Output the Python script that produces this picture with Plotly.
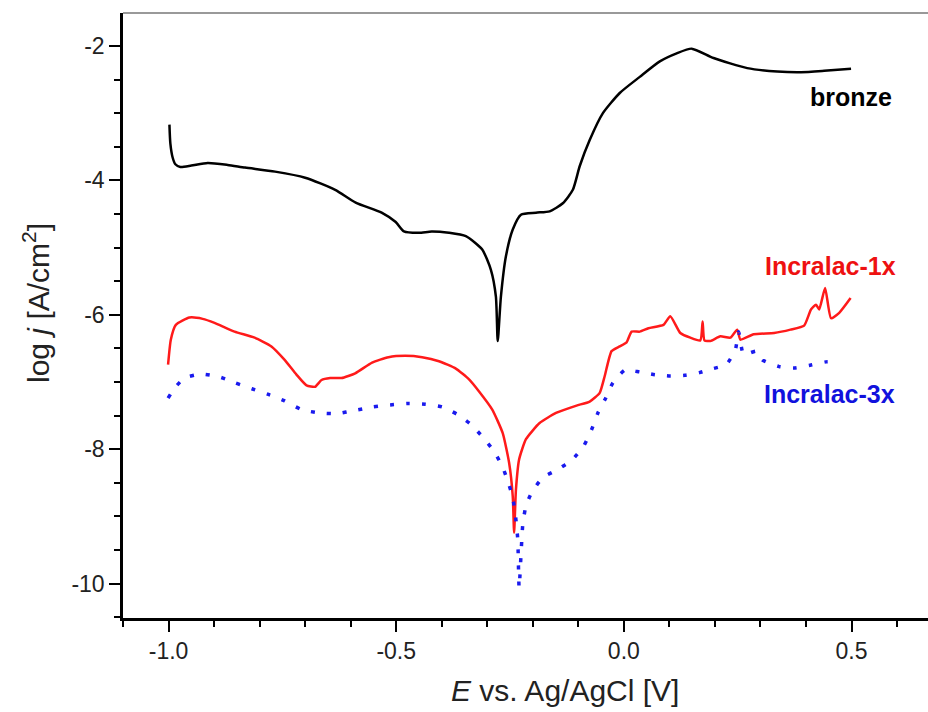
import plotly.graph_objects as go

# ---- data ----
bronze_E = [-0.998, -0.996, -0.991, -0.985, -0.974, -0.950, -0.914, -0.870, -0.832, -0.766,
            -0.700, -0.634, -0.589, -0.532, -0.501, -0.483, -0.450, -0.422, -0.384, -0.347,
            -0.311, -0.292, -0.281, -0.277, -0.270, -0.259, -0.244, -0.226, -0.193, -0.163,
            -0.134, -0.112, -0.097, -0.075, -0.046, -0.009, 0.035, 0.079, 0.116, 0.149,
            0.197, 0.271, 0.337, 0.389, 0.440, 0.499]
bronze_logj = [-3.17, -3.45, -3.66, -3.76, -3.80, -3.78, -3.74, -3.77, -3.81, -3.87,
               -3.96, -4.14, -4.33, -4.48, -4.62, -4.76, -4.78, -4.76, -4.78, -4.83,
               -5.03, -5.33, -5.73, -6.39, -5.73, -5.13, -4.73, -4.51, -4.48, -4.46,
               -4.34, -4.14, -3.79, -3.40, -3.00, -2.70, -2.46, -2.23, -2.11, -2.04,
               -2.18, -2.33, -2.38, -2.39, -2.37, -2.34]

inc1_E = [-1.001, -0.995, -0.984, -0.954, -0.925, -0.899, -0.855, -0.811, -0.774, -0.745,
          -0.719, -0.697, -0.678, -0.664, -0.645, -0.620, -0.590, -0.553, -0.517, -0.480,
          -0.443, -0.406, -0.369, -0.340, -0.318, -0.289, -0.266, -0.252, -0.244, -0.241,
          -0.237, -0.230, -0.215, -0.185, -0.149, -0.104, -0.075, -0.053, -0.042, -0.027,
          -0.009, 0.006, 0.017, 0.035, 0.054, 0.087, 0.102, 0.124, 0.146, 0.168,
          0.173, 0.177, 0.190, 0.212, 0.234, 0.249, 0.256, 0.285, 0.330, 0.366,
          0.396, 0.411, 0.422, 0.429, 0.442, 0.455, 0.473, 0.498]
inc1_logj = [-6.74, -6.37, -6.15, -6.04, -6.06, -6.12, -6.25, -6.34, -6.47, -6.67,
             -6.89, -7.05, -7.07, -6.97, -6.94, -6.94, -6.87, -6.71, -6.63, -6.61,
             -6.63, -6.69, -6.80, -6.96, -7.14, -7.41, -7.76, -8.20, -8.70, -9.24,
             -8.60, -8.15, -7.85, -7.61, -7.46, -7.35, -7.29, -7.16, -6.91, -6.54,
             -6.47, -6.41, -6.25, -6.25, -6.20, -6.15, -6.02, -6.27, -6.34, -6.38,
             -6.10, -6.38, -6.39, -6.32, -6.34, -6.22, -6.37, -6.29, -6.27, -6.22,
             -6.16, -5.92, -5.85, -5.92, -5.60, -6.05, -5.97, -5.75]

inc3_E = [-1.001, -0.987, -0.965, -0.929, -0.890, -0.854, -0.817, -0.778, -0.745, -0.708,
          -0.669, -0.630, -0.590, -0.551, -0.513, -0.475, -0.436, -0.399, -0.366, -0.336,
          -0.311, -0.285, -0.266, -0.255, -0.244, -0.238, -0.233, -0.230, -0.222, -0.215,
          -0.202, -0.178, -0.145, -0.114, -0.088, -0.071, -0.057, -0.040, -0.024, 0.003,
          0.035, 0.068, 0.102, 0.134, 0.166, 0.190, 0.225, 0.245, 0.252, 0.263,
          0.291, 0.304, 0.341, 0.374, 0.409, 0.444, 0.471]
inc3_logj = [-7.24, -7.09, -6.94, -6.88, -6.92, -7.01, -7.10, -7.19, -7.28, -7.41,
             -7.46, -7.47, -7.42, -7.37, -7.34, -7.32, -7.33, -7.37, -7.48, -7.63,
             -7.81, -8.03, -8.27, -8.47, -8.72, -8.99, -9.34, -10.06, -9.12, -8.84,
             -8.64, -8.42, -8.30, -8.16, -7.95, -7.71, -7.46, -7.24, -7.01, -6.82,
             -6.85, -6.89, -6.91, -6.90, -6.86, -6.81, -6.74, -6.52, -6.25, -6.59,
             -6.54, -6.67, -6.77, -6.79, -6.75, -6.70, -6.70]

x_tick_vals = [-1.0, -0.5, 0.0, 0.5]
x_tick_text = ["-1.0", "-0.5", "0.0", "0.5"]
y_tick_vals = [-2, -4, -6, -8, -10]
y_tick_text = ["-2", "-4", "-6", "-8", "-10"]

FONT = "Liberation Sans, Arial, sans-serif"

fig = go.Figure()
fig.add_trace(go.Scatter(x=bronze_E, y=bronze_logj, mode="lines", name="bronze",
                         line=dict(color="black", width=2.5, shape="spline", smoothing=0.6)))
fig.add_trace(go.Scatter(x=inc1_E, y=inc1_logj, mode="lines", name="Incralac-1x",
                         line=dict(color="#ff1a1a", width=2.5, shape="spline", smoothing=0.5)))
fig.add_trace(go.Scatter(x=inc3_E, y=inc3_logj, mode="lines", name="Incralac-3x",
                         line=dict(color="#1a1aee", width=3.5, dash="4px,12px",
                                   shape="spline", smoothing=0.5)))

W, H = 928, 712
L, R, T, B = 123, 0, 13, 94
PW, PH = W - L - R, H - T - B


def px(xp):
    return (xp - L) / PW


def py(yp):
    return 1 - (yp - T) / PH


fig.update_layout(
    width=W, height=H,
    margin=dict(l=L, r=R, t=T, b=B),
    paper_bgcolor="white", plot_bgcolor="white",
    showlegend=False,
    font=dict(family=FONT, color="#222"),
    xaxis=dict(
        range=[-1.1, 0.668], showgrid=False, zeroline=False,
        showline=True, linecolor="black", linewidth=2.5,
        ticks="outside", ticklen=11, tickwidth=2, tickcolor="black",
        tickmode="array", tickvals=x_tick_vals, ticktext=x_tick_text,
        tickfont=dict(size=23, family=FONT, color="#222"),
        minor=dict(ticks="outside", ticklen=6, tickwidth=2, tickcolor="black",
                   tickmode="linear", tick0=0, dtick=0.1),
    ),
    yaxis=dict(
        range=[-10.51, -1.51], showgrid=False, zeroline=False,
        showline=True, linecolor="black", linewidth=2.5,
        ticks="outside", ticklen=11, tickwidth=2, tickcolor="black",
        tickmode="array", tickvals=y_tick_vals, ticktext=y_tick_text,
        tickfont=dict(size=23, family=FONT, color="#222"),
        minor=dict(ticks="outside", ticklen=6, tickwidth=2, tickcolor="black",
                   tickmode="linear", tick0=0, dtick=0.5),
    ),
    shapes=[dict(type="line", xref="paper", yref="paper", x0=0, x1=1, y0=1, y1=1,
                 line=dict(color="#999", width=2))],
    annotations=[
        dict(text="bronze", xref="paper", yref="paper", x=px(851), y=py(97),
             showarrow=False, xanchor="center", yanchor="middle",
             font=dict(size=25, family=FONT, color="black", weight="bold")),
        dict(text="Incralac-1x", xref="paper", yref="paper", x=px(830), y=py(266),
             showarrow=False, xanchor="center", yanchor="middle",
             font=dict(size=25, family=FONT, color="#ee1111", weight="bold")),
        dict(text="Incralac-3x", xref="paper", yref="paper", x=px(829), y=py(394),
             showarrow=False, xanchor="center", yanchor="middle",
             font=dict(size=25, family=FONT, color="#1111dd", weight="bold")),
        dict(text="<i>E</i> vs. Ag/AgCl [V]", xref="paper", yref="paper",
             x=px(565), y=py(690),
             showarrow=False, xanchor="center", yanchor="middle",
             font=dict(size=30, family=FONT, color="#222")),
        dict(text="log <i>j</i> [A/cm<sup>2</sup>]", xref="paper", yref="paper",
             x=px(36), y=py(303), textangle=-90,
             showarrow=False, xanchor="center", yanchor="middle",
             font=dict(size=30, family=FONT, color="#222")),
    ],
)

fig.write_html("out.html", config={"displayModeBar": False},
               post_script="document.body.style.margin='0';")
